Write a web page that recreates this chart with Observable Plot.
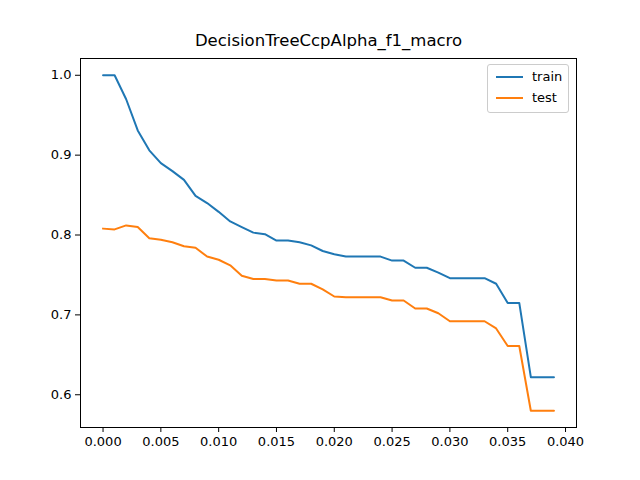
<!DOCTYPE html>
<html>
<head>
<meta charset="utf-8">
<script src="https://cdn.jsdelivr.net/npm/d3@7"></script>
<script src="https://cdn.jsdelivr.net/npm/@observablehq/plot@0.6"></script>
<style>
  body { margin: 0; background: #fff; font-family: "DejaVu Sans", sans-serif; }
  #wrap { position: relative; width: 640px; height: 480px; }
  #legend { position: absolute; left: 487px; top: 64px; width: 80px; padding: 1px 0 4px;
    border: 1px solid #ccc; border-radius: 3px; background: rgba(255,255,255,0.8);
    font-size: 13px; }
  .row { display: flex; align-items: center; height: 21px; }
  .sw { width: 27px; height: 2px; margin: 0 9px 0 8px; }
</style>
</head>
<body>
<div id="wrap">
  <div id="myplot"></div>
  <div id="legend"></div>
</div>
<script>
const alphas = d3.range(40).map((i) => i / 1000);
const train = [1.0, 1.0, 0.97, 0.931, 0.906, 0.89, 0.88, 0.869, 0.849, 0.84,
  0.829, 0.817, 0.81, 0.803, 0.801, 0.793, 0.793, 0.791, 0.787, 0.78,
  0.776, 0.773, 0.773, 0.773, 0.773, 0.768, 0.768, 0.759, 0.759, 0.753,
  0.746, 0.746, 0.746, 0.746, 0.739, 0.715, 0.715, 0.622, 0.622, 0.622];
const test = [0.808, 0.807, 0.812, 0.81, 0.796, 0.794, 0.791, 0.786, 0.784, 0.773,
  0.769, 0.762, 0.749, 0.745, 0.745, 0.743, 0.743, 0.739, 0.739, 0.732,
  0.723, 0.722, 0.722, 0.722, 0.722, 0.718, 0.718, 0.708, 0.708, 0.702,
  0.692, 0.692, 0.692, 0.692, 0.683, 0.661, 0.661, 0.58, 0.58, 0.58];
const series = [
  { name: "train", values: train, color: "#1f77b4" },
  { name: "test", values: test, color: "#ff7f0e" },
];
const data = series.flatMap((s) =>
  s.values.map((v, i) => ({ alpha: alphas[i], score: v, name: s.name }))
);

const plot = Plot.plot({
  width: 640,
  height: 480,
  marginLeft: 80,
  marginRight: 64,
  marginTop: 58,
  marginBottom: 53,
  style: { fontFamily: "DejaVu Sans, sans-serif", fontSize: "13px", color: "#000" },
  x: { domain: [-0.00195, 0.04095], label: null },
  y: { domain: [0.559, 1.021], label: null },
  color: { domain: series.map((s) => s.name), range: series.map((s) => s.color) },
  marks: [
    Plot.lineY(data, { x: "alpha", y: "score", stroke: "name", strokeWidth: 2 }),
    Plot.frame({ stroke: "#000", strokeWidth: 1 }),
    Plot.axisX({ ticks: d3.range(0, 0.0401, 0.005), tickFormat: d3.format(".3f"), tickSize: 5, tickPadding: 4, label: null }),
    Plot.axisY({ ticks: [0.6, 0.7, 0.8, 0.9, 1.0], tickFormat: d3.format(".1f"), tickSize: 5, tickPadding: 4, label: null }),
    Plot.text(["DecisionTreeCcpAlpha_f1_macro"], { frameAnchor: "top", dy: -13, fontSize: 16.5, lineAnchor: "bottom" }),
  ],
});
document.querySelector("#myplot").append(plot);

const legend = document.querySelector("#legend");
for (const s of series) {
  const row = document.createElement("div");
  row.className = "row";
  row.innerHTML = `<span class="sw" style="background:${s.color}"></span>${s.name}`;
  legend.append(row);
}
</script>
</body>
</html>
